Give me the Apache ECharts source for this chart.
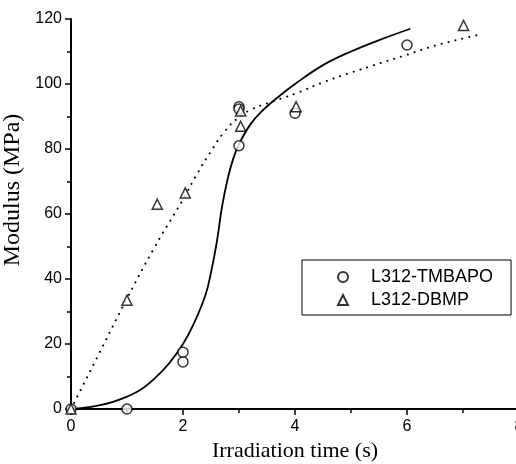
<!DOCTYPE html>
<html>
<head>
<meta charset="utf-8">
<script src="https://cdn.jsdelivr.net/npm/echarts@6/dist/echarts.min.js"></script>
<style>html,body{margin:0;padding:0;background:#fff;}#c{width:516px;height:464px;}</style>
</head>
<body>
<div id="c"></div>
<script>
var tmbapoPoints = [[0,0],[1,0],[2,17.5],[2,14.5],[3,81],[3,93],[3,92.3],[4,91],[6,112]];
var dbmpPoints = [[0,0],[1,33.5],[1.54,63],[2.04,66.5],[3.03,91.7],[3.03,87],[4.02,93],[7.01,118]];
// Fitted curves
var tmbapoFitX = [0,0.25,0.5,0.75,1.0,1.25,1.5,1.75,2.0,2.2,2.4,2.5,2.6,2.7,2.8,2.9,3.0,3.2,3.4,3.7,4.0,4.5,5.0,5.5,6.06];
var tmbapoFitY = [0,0.4,1.1,2.2,3.8,6,9.5,14,20,26.5,35,42,51,62.5,71,77.2,81.5,87.5,91.5,96,100,105.8,110,113.5,117];
var dbmpFitX = [0,0.5,1.0,1.5,2.0,2.25,2.5,2.75,3.0,3.25,3.5,3.75,4.0,4.5,5.0,5.5,6.0,6.5,7.0,7.25];
var dbmpFitY = [0,17,34,50,64.5,72.3,79.3,85.5,89.8,92.4,94,95.5,97,100.5,103.5,106.3,109,111.8,114,115];
var xTicks = [0,2,4,6,8];
var yTicks = [0,20,40,60,80,100,120];

function pairs(xs, ys){ return xs.map(function(x,i){return [x, ys[i]];}); }

var chart = echarts.init(document.getElementById('c'), null, {renderer:'canvas'});
var sansFont = 'Liberation Sans, Arial, sans-serif';
var serifFont = 'Liberation Serif, Times New Roman, serif';
chart.setOption({
  animation: false,
  backgroundColor: '#fff',
  grid: {left: 71, width: 448, top: 19, height: 390, containLabel: false, outerBoundsMode: 'none'},
  xAxis: {
    type: 'value', min: xTicks[0], max: xTicks[xTicks.length-1], interval: 2,
    name: 'Irradiation time (s)', nameLocation: 'middle', nameGap: 24,
    nameTextStyle: {fontFamily: serifFont, fontSize: 22, color: '#000'},
    axisLine: {show: true, lineStyle: {color: '#000', width: 2}},
    axisTick: {show: true, length: 6, lineStyle: {color: '#000', width: 1.5}},
    minorTick: {show: true, splitNumber: 2, length: 4, lineStyle: {color: '#000', width: 1.5}},
    splitLine: {show: false},
    axisLabel: {fontFamily: sansFont, fontSize: 16, color: '#000', margin: 10, hideOverlap: false}
  },
  yAxis: {
    type: 'value', min: yTicks[0], max: yTicks[yTicks.length-1], interval: 20,
    name: 'Modulus (MPa)', nameLocation: 'middle', nameGap: 36,
    nameTextStyle: {fontFamily: serifFont, fontSize: 24, color: '#000', padding: [0,0,0,48]},
    axisLine: {show: true, lineStyle: {color: '#000', width: 2}},
    axisTick: {show: true, length: 6, lineStyle: {color: '#000', width: 1.5}},
    minorTick: {show: true, splitNumber: 2, length: 4, lineStyle: {color: '#000', width: 1.5}},
    splitLine: {show: false},
    axisLabel: {fontFamily: sansFont, fontSize: 16, color: '#000', margin: 9}
  },
  legend: {
    orient: 'vertical', left: 302, top: 260,
    data: ['L312-TMBAPO', 'L312-DBMP'],
    borderColor: '#000', borderWidth: 1, borderRadius: 0,
    padding: [7, 18, 5, 35], itemGap: 3,
    itemWidth: 10, itemHeight: 10,
    textStyle: {fontFamily: sansFont, fontSize: 18, color: '#000', lineHeight: 20, padding: [0,0,0,18]}
  },
  series: [
    {name: 'TMBAPO fit', type: 'line', data: pairs(tmbapoFitX, tmbapoFitY), smooth: 0.4, showSymbol: false,
     lineStyle: {color: '#000', width: 1.8}, z: 2},
    {name: 'DBMP fit', type: 'line', data: pairs(dbmpFitX, dbmpFitY), smooth: 0.5, showSymbol: false,
     lineStyle: {color: '#000', width: 2, type: [0.1, 7], cap: 'round'}, z: 2},
    {name: 'L312-TMBAPO', type: 'scatter', data: tmbapoPoints, symbol: 'circle', symbolSize: 10,
     itemStyle: {color: '#fff', borderColor: '#000', borderWidth: 1.5}, z: 3},
    {name: 'L312-DBMP', type: 'scatter', data: dbmpPoints, symbol: 'triangle', symbolSize: 10,
     itemStyle: {color: '#fff', borderColor: '#000', borderWidth: 1.5}, z: 3}
  ]
});
</script>
</body>
</html>
